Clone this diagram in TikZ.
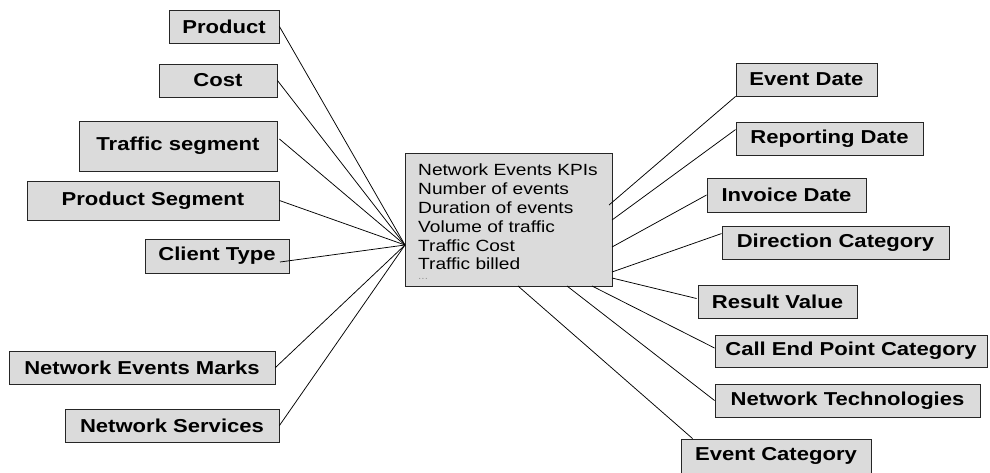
\documentclass[tikz,border=0pt]{standalone}
\usepackage{fontspec}
\setmainfont{Liberation Sans}[FakeStretch=1.18]
\usetikzlibrary{calc}
\begin{document}
\begin{tikzpicture}[x=1pt,y=-1pt,
  bx/.style={draw=black!85, line width=0.9pt, fill=black!14, inner sep=0pt,
    font=\fontsize{18.7}{22}\selectfont\bfseries, minimum height=33pt},
  link/.style={draw=black, line width=0.75pt}]
\useasboundingbox (0,0) rectangle (990,472);
% left boxes
\node[bx, minimum width=110pt] (prod) at (224,26.5) {Product};
\node[bx, minimum width=118pt] (cost) at (218,80.5) {Cost};
\node[bx, minimum width=198pt, minimum height=50pt] (tseg) at (178,146) {Traffic segment};
\node[bx, minimum width=252pt, minimum height=39pt] (pseg) at (153,200.5) {Product Segment};
\node[bx, minimum width=144pt, minimum height=34pt] (ctype) at (217,256) {Client Type};
\node[bx, minimum width=266pt] (nem) at (142,367.5) {Network Events Marks};
\node[bx, minimum width=214pt] (nsvc) at (172,425.5) {Network Services};
% central box
\node[bx, minimum width=207pt, minimum height=133pt] (kpi) at (508.5,219.5) {};
\node[anchor=north west, inner sep=0pt, align=left,
  font=\fontsize{16.2}{18.8}\selectfont] (kpitext) at (418,164)
  {Network Events KPIs\\Number of events\\Duration of events\\Volume of traffic\\Traffic Cost\\Traffic billed};
\node[anchor=west, inner sep=0pt, text=black!40, font=\fontsize{10}{10}\selectfont] (dots) at (418,279) {...};
% right boxes
\node[bx, minimum width=141pt] (edate) at (806.5,79.5) {Event Date};
\node[bx, minimum width=187pt] (rdate) at (829.5,138.5) {Reporting Date};
\node[bx, minimum width=159pt, minimum height=34pt] (idate) at (786.5,195) {Invoice Date};
\node[bx, minimum width=227pt] (dcat) at (835.5,242.5) {Direction Category};
\node[bx, minimum width=159pt] (rval) at (777.5,301.5) {Result Value};
\node[bx, minimum width=272pt, minimum height=32pt] (cep) at (851,351) {Call End Point Category};
\node[bx, minimum width=265pt] (ntech) at (847.5,400.5) {Network Technologies};
\node[bx, minimum width=190pt, minimum height=34pt] (ecat) at (776,456) {Event Category};
% connector points
\coordinate (hub) at (405,245);
\coordinate (ctypeend) at (280,262);
\coordinate (k1) at (609,205);
\coordinate (k2) at (612,220);
\coordinate (k3) at (612,247);
\coordinate (k4) at (612,272);
\coordinate (k5) at (612,278);
\coordinate (k6) at (592,286);
\coordinate (k7) at (567,286);
\coordinate (k8) at (518,286);
% left connectors
\draw[link] (prod.east) -- (hub);
\draw[link] (cost.east) -- (hub);
\draw[link] ($(tseg.east)+(2,-7)$) -- (hub);
\draw[link] (pseg.east) -- (hub);
\draw[link] (ctypeend) -- (hub);
\draw[link] (nem.east) -- (hub);
\draw[link] (nsvc.east) -- (hub);
% right connectors
\draw[link] (k1) -- (edate.south west);
\draw[link] (k2) -- ($(rdate.north west)+(0,8)$);
\draw[link] (k3) -- (idate.west);
\draw[link] (k4) -- ($(dcat.north west)+(0,8)$);
\draw[link] (k5) -- ($(rval.west)+(-1,-3)$);
\draw[link] (k6) -- ($(cep.west)+(0,-3)$);
\draw[link] (k7) -- (ntech.west);
\draw[link] (k8) -- ($(ecat.north west)+(12,0)$);
\end{tikzpicture}
\end{document}
